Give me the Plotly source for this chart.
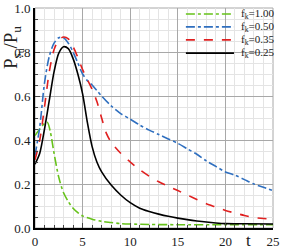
import plotly.graph_objects as go

t_green = [0, 0.5, 1, 1.3, 1.6, 2, 2.5, 3, 3.5, 4, 4.5, 5, 6, 7, 8, 9, 10, 12, 15, 20, 25]
v_green = [0.42, 0.45, 0.475, 0.48, 0.44, 0.34, 0.23, 0.16, 0.12, 0.09, 0.07, 0.055, 0.04, 0.03, 0.025, 0.02, 0.018, 0.016, 0.015, 0.015, 0.015]

t_blue = [0, 0.5, 1, 1.5, 2, 2.5, 3, 3.5, 4, 4.5, 5, 5.5, 6, 6.5, 7, 8, 9, 10, 11, 12, 13, 14, 15, 16, 17, 18, 19, 20, 21, 22, 23, 24, 25]
v_blue = [0.33, 0.46, 0.66, 0.78, 0.84, 0.865, 0.865, 0.84, 0.80, 0.75, 0.70, 0.67, 0.65, 0.625, 0.60, 0.555, 0.52, 0.495, 0.468, 0.445, 0.425, 0.405, 0.385, 0.36, 0.335, 0.305, 0.28, 0.255, 0.24, 0.22, 0.2, 0.185, 0.17]

t_red = [0, 0.5, 1, 1.5, 2, 2.5, 3, 3.5, 4, 4.5, 5, 5.5, 6, 6.5, 7, 7.5, 8, 9, 10, 11, 12, 13, 14, 15, 16, 17, 18, 19, 20, 21, 22, 23, 24, 25]
v_red = [0.31, 0.40, 0.55, 0.71, 0.81, 0.855, 0.868, 0.86, 0.825, 0.775, 0.72, 0.675, 0.63, 0.575, 0.50, 0.43, 0.39, 0.34, 0.30, 0.265, 0.235, 0.21, 0.19, 0.17, 0.15, 0.13, 0.11, 0.095, 0.08, 0.068, 0.057, 0.048, 0.043, 0.04]

t_black = [0, 0.5, 1, 1.5, 2, 2.5, 3, 3.5, 4, 4.5, 5, 5.5, 6, 6.5, 7, 8, 9, 10, 11, 12, 13, 14, 15, 16, 17, 18, 19, 20, 22, 25]
v_black = [0.29, 0.34, 0.45, 0.58, 0.71, 0.795, 0.824, 0.815, 0.77, 0.70, 0.61, 0.48, 0.37, 0.30, 0.255, 0.195, 0.15, 0.115, 0.09, 0.075, 0.063, 0.053, 0.045, 0.038, 0.032, 0.027, 0.023, 0.02, 0.019, 0.018]

labels = ["f<sub>k</sub>=1.00", "f<sub>k</sub>=0.50", "f<sub>k</sub>=0.35", "f<sub>k</sub>=0.25"]
x_ticks = [0, 5, 10, 15, 20, 25]
y_ticks = [0.0, 0.2, 0.4, 0.6, 0.8, 1.0]

serif = "Times New Roman, Liberation Serif, serif"
fig = go.Figure()
series = [
    (t_green, v_green, labels[0], "#66c21a", "dashdot"),
    (t_blue, v_blue, labels[1], "#2f6fbf", "dashdot"),
    (t_red, v_red, labels[2], "#e02020", "dash"),
    (t_black, v_black, labels[3], "#000000", "solid"),
]
annotations = [
    dict(text="P<sub>s<sub>u</sub></sub>/P<sub>u</sub>", xref="paper", yref="paper",
         x=-0.095, y=0.82, xanchor="center", yanchor="middle", textangle=-90, showarrow=False,
         font=dict(family=serif, size=19, color="#222")),
    dict(text="t", xref="paper", yref="paper", x=0.895, y=-0.055, xanchor="center", yanchor="middle",
         showarrow=False, font=dict(family=serif, size=17, color="#222")),
]
shapes = [dict(type="rect", xref="paper", yref="paper", x0=0, y0=0, x1=1, y1=1,
               line=dict(color="#a8a8a8", width=1), layer="below")]

# manual legend (compact spacing like the reference)
leg_x0, leg_x1, leg_tx = 0.634, 0.836, 0.858
leg_y = [0.973, 0.914, 0.855, 0.795]
for (tx, vy, name, col, dash), ly in zip(series, leg_y):
    fig.add_trace(go.Scatter(x=tx, y=vy, name=name, mode="lines", showlegend=False,
                             line=dict(color=col, width=1.6, dash=dash, shape="spline", smoothing=0.8)))
    shapes.append(dict(type="line", xref="paper", yref="paper", x0=leg_x0, x1=leg_x1, y0=ly, y1=ly,
                       line=dict(color=col, width=1.6, dash=dash)))
    annotations.append(dict(text=name, xref="paper", yref="paper", x=leg_tx, y=ly,
                            xanchor="left", yanchor="middle", showarrow=False,
                            font=dict(family=serif, size=11, color="#222")))

fig.update_layout(
    width=282, height=251,
    margin=dict(l=35, r=9, t=8, b=23),
    plot_bgcolor="white", paper_bgcolor="white",
    font=dict(family=serif, size=13, color="#222"),
    showlegend=False,
    xaxis=dict(range=[0, 25], tickvals=x_ticks, ticks="inside", ticklen=5,
               showline=True, linecolor="black", linewidth=2, mirror=False,
               showgrid=True, gridcolor="#a8a8a8", gridwidth=1, automargin=False,
               minor=dict(dtick=1, showgrid=True, gridcolor="#e4e4e4", ticks="inside", ticklen=3),
               zeroline=False, tickfont=dict(family=serif, size=13)),
    yaxis=dict(range=[0, 1.0], tickvals=y_ticks, ticktext=["0.0", "0.2", "0.4", "0.6", "0.8", "1.0"],
               ticks="inside", ticklen=5, automargin=False,
               showline=True, linecolor="black", linewidth=2, mirror=False,
               showgrid=True, gridcolor="#a8a8a8", gridwidth=1,
               minor=dict(dtick=0.05, showgrid=True, gridcolor="#e4e4e4", ticks="inside", ticklen=3),
               zeroline=False, tickfont=dict(family=serif, size=13)),
    annotations=annotations,
    shapes=shapes,
)
fig.write_html("out.html", config={"displayModeBar": False},
               post_script="document.body.style.margin='0';document.body.style.overflow='hidden';")
